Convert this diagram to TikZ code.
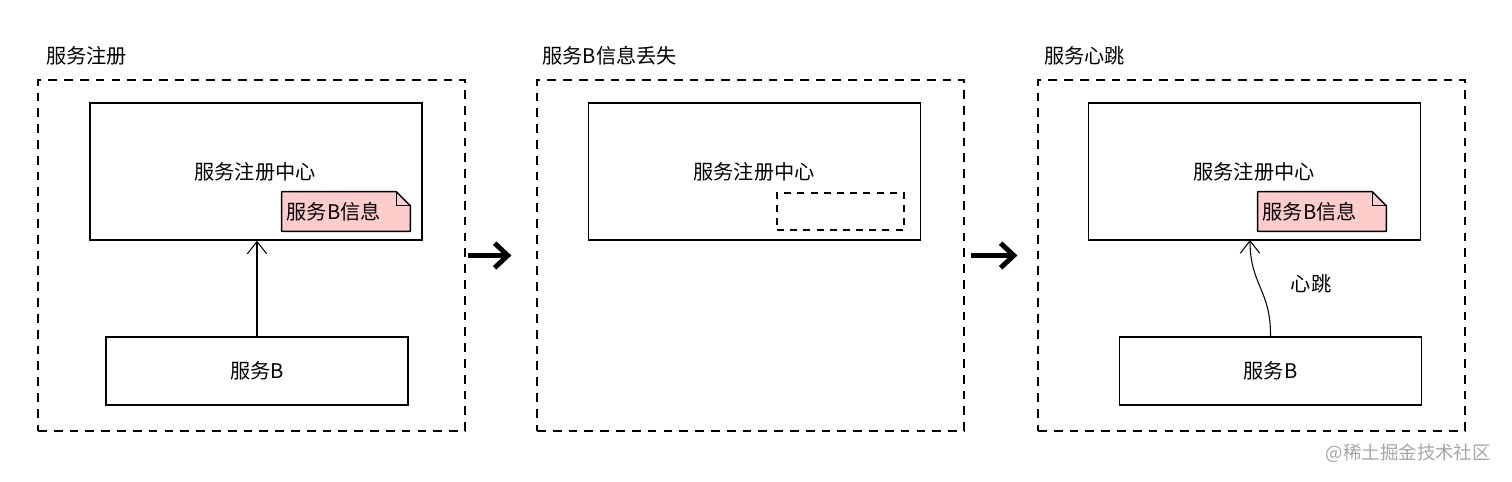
\documentclass[tikz,border=0pt]{standalone}
\usepackage{fontspec}
\setmainfont{Noto Sans CJK SC}
\usetikzlibrary{arrows.meta,positioning,backgrounds}
\definecolor{notepink}{HTML}{FFCCCC}
\definecolor{mark}{HTML}{A6A6A6}

% folded-corner outline behind a note node
\newcommand{\foldnote}[1]{%
 \begin{pgfonlayer}{background}
  \filldraw[fill=notepink,line width=0.8pt,line join=round]
   (#1.south west) -- (#1.north west) -- ([xshift=-14*0.02cm]#1.north east)
   -- ([yshift=-14*0.02cm]#1.north east) -- (#1.south east) -- cycle;
  \draw[line width=0.6pt] ([xshift=-14*0.02cm]#1.north east)
   -- ([xshift=-14*0.02cm,yshift=-14*0.02cm]#1.north east) -- ([yshift=-14*0.02cm]#1.north east);
 \end{pgfonlayer}}

\begin{document}
\begin{tikzpicture}[x=0.02cm,y=-0.02cm,font=\fontsize{11.5}{13}\selectfont,
panel/.style={draw,dashed,dash pattern=on 5pt off 4pt,line width=0.7pt,minimum width=427*0.02cm,minimum height=351*0.02cm},
title/.style={anchor=south west,inner sep=0pt},
center/.style={draw,line width=0.8pt,minimum width=332*0.02cm,minimum height=137*0.02cm},
svc/.style={draw,line width=0.8pt,minimum width=302*0.02cm,minimum height=68*0.02cm},
note/.style={minimum width=128*0.02cm,minimum height=39*0.02cm,inner sep=0pt},
lost/.style={draw,dashed,dash pattern=on 4pt off 3.5pt,line width=0.7pt,minimum width=127*0.02cm,minimum height=37*0.02cm},
link/.style={-{Straight Barb[length=7pt,width=11pt]},line width=0.6pt},
bigarrow/.style={-{Straight Barb[length=7.5pt,width=14pt,line width=2.8pt]},line width=2.8pt}]
 \useasboundingbox (0,0) rectangle (1512,482);

 % panel 1: registration
 \node[panel] (panel1) at (251.5,255.5) {};
 \node[title] (title1) at (46,66) {服务注册};
 \node[center] (reg1) at (256,171.5) {};
 \node (regtext1) at (255,172) {服务注册中心};
 \node[note] (note1) at (346,211.5) {\hspace*{-14pt}服务B信息};
 \foldnote{note1}
 \node[svc] (svc1) at (257,371) {服务B};
 \draw[link] (svc1.north) -- (svc1.north |- reg1.south);

 % panel 2: info lost
 \node[panel] (panel2) at (750.5,255.5) {};
 \node[title] (title2) at (542,66) {服务B信息丢失};
 \node[center] (reg2) at (754.5,171.5) {};
 \node (regtext2) at (754,172) {服务注册中心};
 \node[lost] (gap2) at (840.5,211.5) {};

 % panel 3: heartbeat
 \node[panel] (panel3) at (1251.5,255.5) {};
 \node[title] (title3) at (1044,66) {服务心跳};
 \node[center] (reg3) at (1254.5,171.5) {};
 \node (regtext3) at (1254,172) {服务注册中心};
 \node[note] (note3) at (1322,211.5) {\hspace*{-14pt}服务B信息};
 \foldnote{note3}
 \node[svc] (svc3) at (1270.5,371) {服务B};
 \coordinate (beat3) at (1250,240);
 \draw[link] (svc3.north) .. controls (1271,290) and (1250,285) .. (beat3);
 \node (beatlabel) at (1311,284) {心跳};

 % transitions
 \draw[bigarrow,shorten <=2*0.02cm,shorten >=25*0.02cm] (panel1.east) -- (panel2.west);
 \draw[bigarrow,shorten <=6*0.02cm,shorten >=20*0.02cm] (panel2.east) -- (panel3.west);

 \node[text=mark,font=\fontsize{10.5}{12}\selectfont,anchor=east] (watermark) at (1497,453) {@稀土掘金技术社区};
\end{tikzpicture}
\end{document}
